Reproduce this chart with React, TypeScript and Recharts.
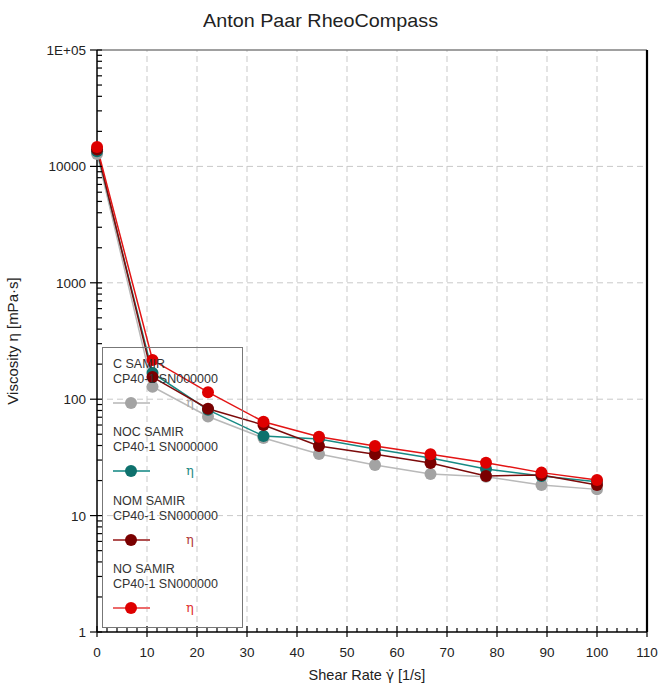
import React from "react";
import { LineChart, Line, XAxis, YAxis, ReferenceLine, Legend } from "recharts";

const SHEAR_RATE = [0.01, 11.1, 22.2, 33.3, 44.4, 55.6, 66.7, 77.8, 88.9, 100];
const C_SAMIR = [12800, 128, 71, 46.4, 33.8, 27.2, 22.8, 21.6, 18.3, 16.8];
const NOC_SAMIR = [13500, 168, 81, 48.3, 45.5, 37.3, 31.2, 25.1, 21.9, 19.5];
const NOM_SAMIR = [14000, 155, 82.8, 60, 39.6, 33.6, 28.3, 21.9, 22.3, 18.3];
const NO_SAMIR = [14700, 217, 115, 64, 47.6, 39.6, 33.6, 28.5, 23.4, 20.2];

const SERIES = [
  { key: "c", name: "C SAMIR", values: C_SAMIR, line: "#b9b9b9", dot: "#a3a3a3", eta: "#a8a8a8", legendLine: "#c8c8c8" },
  { key: "noc", name: "NOC SAMIR", values: NOC_SAMIR, line: "#178a84", dot: "#0e716d", eta: "#1f8a85", legendLine: "#4aa3a0" },
  { key: "nom", name: "NOM SAMIR", values: NOM_SAMIR, line: "#7c0a0a", dot: "#7a0000", eta: "#b03a3a", legendLine: "#b05050" },
  { key: "no", name: "NO SAMIR", values: NO_SAMIR, line: "#e31414", dot: "#de0000", eta: "#e03030", legendLine: "#ec6a6a" },
];
const DEVICE = "CP40-1 SN000000";

const Y_MAJOR_TICKS = [1, 10, 100, 1000, 10000, 100000];
const Y_MINOR_STEPS = [2, 3, 4, 5, 6, 7, 8, 9];
const Y_TICKS = [
  ...Y_MAJOR_TICKS,
  ...Y_MAJOR_TICKS.slice(0, -1).flatMap((m) => Y_MINOR_STEPS.map((s) => s * m)),
].sort((a, b) => a - b);
const X_MAJOR_TICKS = [0, 10, 20, 30, 40, 50, 60, 70, 80, 90, 100, 110];
const X_TICKS = Array.from({ length: 56 }, (_, i) => i * 2);
const X_GRID = [10, 20, 30, 40, 50, 60, 70, 80, 90, 100];
const Y_GRID = [10, 100, 1000, 10000];

const FONT = "'Liberation Sans', Arial, sans-serif";

const data = SHEAR_RATE.map((x, i) => {
  const row: Record<string, number> = { x };
  SERIES.forEach((s) => (row[s.key] = s.values[i]));
  return row;
});

function formatY(v: number) {
  return v === 100000 ? "1E+05" : String(v);
}

function YTick({ x, y, payload }: any) {
  const v = payload.value;
  const major = Y_MAJOR_TICKS.includes(v);
  return (
    <g>
      <line x1={major ? x - 7 : x} x2={x + 5} y1={y} y2={y} stroke="#000" strokeWidth={1.2} />
      {major && (
        <text x={x - 11} y={y} dy={5} textAnchor="end" fontSize={13.5} fill="#222" fontFamily={FONT}>
          {formatY(v)}
        </text>
      )}
    </g>
  );
}

function XTick({ x, y, payload }: any) {
  const v = payload.value;
  const major = X_MAJOR_TICKS.includes(v);
  return (
    <g>
      <line x1={x} x2={x} y1={major ? y + 5 : y} y2={major ? y - 6 : y - 4} stroke="#000" strokeWidth={1.2} />
      {major && (
        <text x={x} y={y + 25} textAnchor="middle" fontSize={13.5} fill="#222" fontFamily={FONT}>
          {v}
        </text>
      )}
    </g>
  );
}

function LegendBox({ payload }: any) {
  const entries = SERIES.map((s) => {
    const hit = (payload || []).find((p: any) => p.value === s.name);
    return { ...s, dot: hit?.payload?.dot?.fill || s.dot };
  });
  return (
    <div
      style={{
        width: 139,
        height: 279,
        border: "1.5px solid #777",
        fontFamily: FONT,
        fontSize: 12.5,
        color: "#333",
        position: "relative",
      }}
    >
      {entries.map((s, i) => {
        const top = 9 + i * 68.3;
        return (
          <div key={s.key} style={{ position: "absolute", left: 10, top, width: 125, height: 60 }}>
            <div style={{ lineHeight: "15px", whiteSpace: "nowrap" }}>{s.name}</div>
            <div style={{ lineHeight: "15px", whiteSpace: "nowrap" }}>{DEVICE}</div>
            <div style={{ position: "absolute", left: 0, top: 45, width: 37, height: 2, background: s.legendLine }} />
            <div
              style={{
                position: "absolute",
                left: 12,
                top: 40,
                width: 12,
                height: 12,
                borderRadius: 6,
                background: s.dot,
              }}
            />
            <div
              style={{
                position: "absolute",
                left: 73,
                top: 37,
                fontFamily: "'DejaVu Serif', serif",
                fontSize: 13,
                lineHeight: "18px",
                color: s.eta,
              }}
            >
              η
            </div>
          </div>
        );
      })}
    </div>
  );
}

export default function App() {
  return (
    <div style={{ position: "absolute", left: 0, top: 0, width: 661, height: 684, background: "#fff" }}>
      <div
        style={{
          position: "absolute",
          left: 203,
          top: 10,
          fontFamily: FONT,
          fontSize: 19,
          color: "#222",
          whiteSpace: "nowrap",
          transform: "scaleX(1.04)",
          transformOrigin: "left",
        }}
      >
        Anton Paar RheoCompass
      </div>
      <LineChart width={661} height={684} data={data} margin={{ top: 50, right: 14, bottom: 22, left: 37 }}>
        {X_GRID.map((g) => (
          <ReferenceLine key={"xg" + g} x={g} stroke="#c9c9c9" strokeDasharray="6 4" strokeWidth={1} />
        ))}
        {Y_GRID.map((g) => (
          <ReferenceLine key={"yg" + g} y={g} stroke="#c9c9c9" strokeDasharray="6 4" strokeWidth={1} />
        ))}
        <ReferenceLine y={100000} stroke="#808080" strokeWidth={1.5} />
        <ReferenceLine x={110} stroke="#000" strokeWidth={2.2} />
        <XAxis
          dataKey="x"
          type="number"
          domain={[0, 110]}
          ticks={X_TICKS}
          interval={0}
          tickSize={0}
          tickMargin={0}
          tick={<XTick />}
          height={30}
          axisLine={{ stroke: "#000", strokeWidth: 1.5 }}
          label={{
            content: () => (
              <text x={367} y={680} textAnchor="middle" fontSize={14.5} fill="#222" fontFamily={FONT}>
                Shear Rate <tspan fontFamily="'DejaVu Sans', sans-serif" fontSize={13.5}>γ̇</tspan>  [1/s]
              </text>
            ),
          }}
        />
        <YAxis
          scale="log"
          domain={[1, 100000]}
          allowDataOverflow
          ticks={Y_TICKS}
          interval={0}
          tickSize={0}
          tickMargin={0}
          tick={<YTick />}
          width={60}
          axisLine={{ stroke: "#000", strokeWidth: 1.5 }}
          label={{
            content: () => (
              <text
                x={18}
                y={341}
                textAnchor="middle"
                fontSize={15}
                fill="#222"
                fontFamily={FONT}
                transform="rotate(-90 18 341)"
              >
                Viscosity η  [mPa·s]
              </text>
            ),
          }}
        />
        <Legend
          layout="horizontal"
          verticalAlign="middle"
          content={<LegendBox />}
          wrapperStyle={{ position: "absolute", left: 102, top: 347, width: 142, height: 282 }}
        />
        {SERIES.map((s) => (
          <Line
            key={s.key}
            dataKey={s.key}
            name={s.name}
            type="linear"
            stroke={s.line}
            strokeWidth={1.5}
            dot={{ r: 6, fill: s.dot, stroke: "none" }}
            activeDot={false}
            isAnimationActive={false}
          />
        ))}
      </LineChart>
    </div>
  );
}
